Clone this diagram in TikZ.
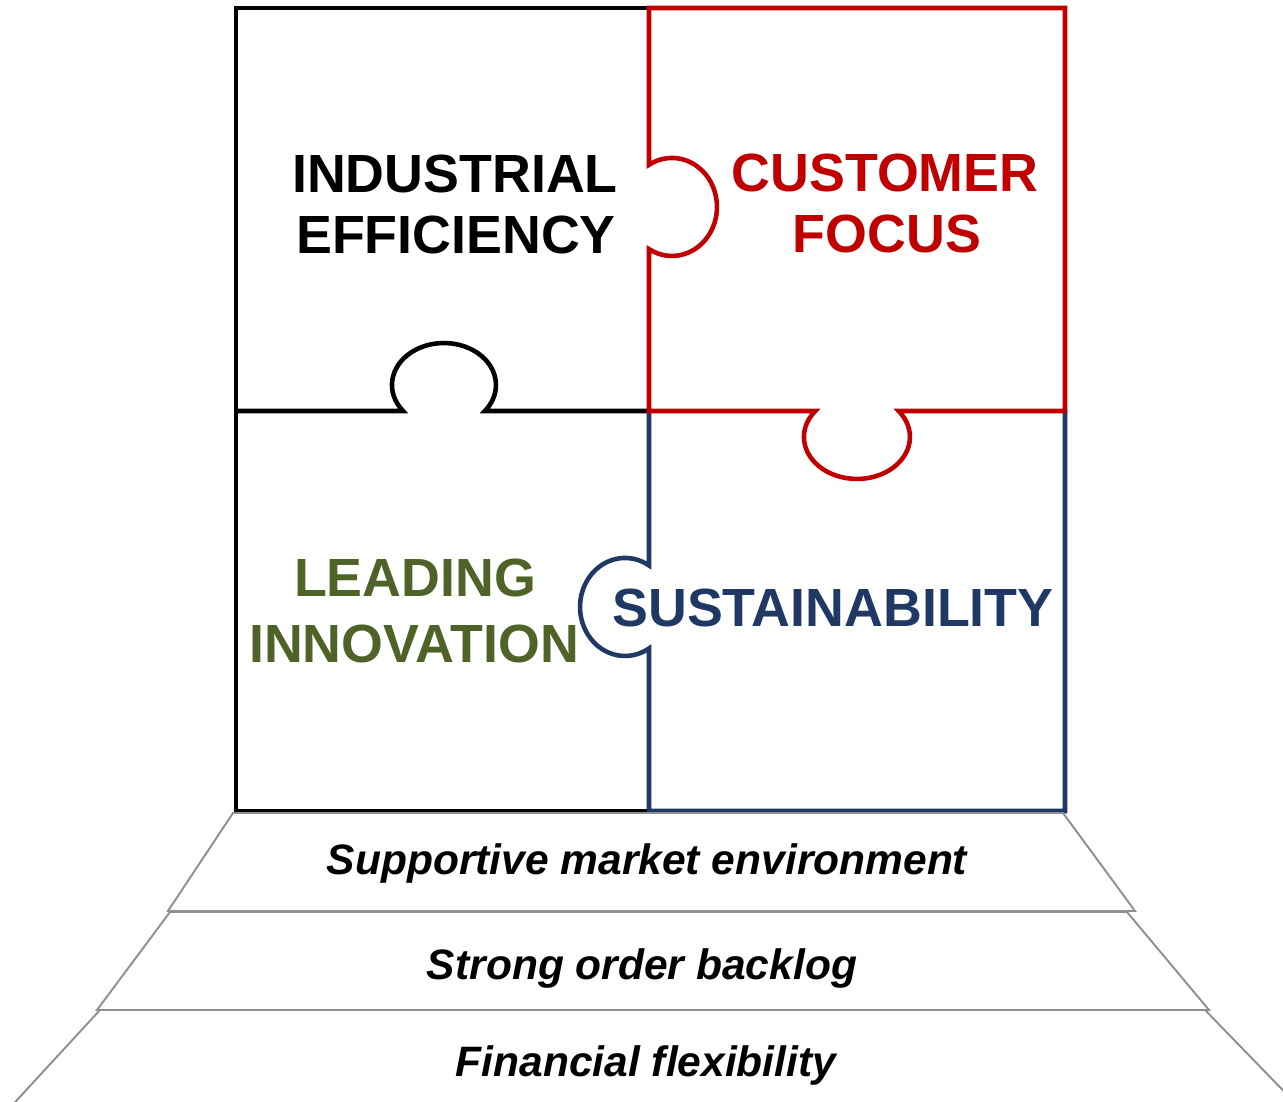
\documentclass[tikz,border=0pt]{standalone}
\usepackage{fontspec}
\setmainfont{Liberation Sans}
\usetikzlibrary{calc, positioning}

\definecolor{custred}{HTML}{C00000}
\definecolor{sustblue}{HTML}{1F3864}
\definecolor{innogreen}{HTML}{4F6228}
\definecolor{basegray}{HTML}{8F8F8F}

\begin{document}
\begin{tikzpicture}[x=0.1mm,y=0.1mm,
    piece/.style={line width=1.3pt, line join=miter},
    layer/.style={draw=basegray, line width=0.55pt, line join=miter},
    pillar/.style={font=\fontsize{15.3}{18}\selectfont\bfseries, anchor=base, inner sep=0pt},
    basetext/.style={font=\fontsize{12.1}{14}\selectfont\bfseries\itshape, anchor=base, inner sep=0pt}]
\useasboundingbox (0,0) rectangle (1283,1102);

\pgfmathsetmacro{\xl}{236}
\pgfmathsetmacro{\xr}{1065}
\pgfmathsetmacro{\xm}{649}
\pgfmathsetmacro{\yt}{1094}
\pgfmathsetmacro{\yb}{291}
\pgfmathsetmacro{\ym}{691}

\coordinate (TL) at (\xl,\yt);
\coordinate (TM) at (\xm,\yt);
\coordinate (TR) at (\xr,\yt);
\coordinate (LM) at (\xl,\ym);
\coordinate (C)  at (\xm,\ym);
\coordinate (RM) at (\xr,\ym);
\coordinate (BL) at (\xl,\yb);
\coordinate (BM) at (\xm,\yb);
\coordinate (BR) at (\xr,\yb);

% Black pieces (left column)
\draw[piece,black] (TM) -- (TL) -- (BL) -- (BM);
\draw[piece,black] (LM) -- (403.1,\ym)
    arc[start angle=218.2, end angle=-38.2, x radius=52, y radius=42] -- (C);

% Blue piece with knob to the left (top edge is the red one)
\draw[piece,sustblue] (C) -- (\xm,536.5)
    arc[start angle=57.8, end angle=302.2, x radius=45, y radius=49]
    -- (BM) -- (BR) -- (RM);

% Red piece with knob down and socket on the left
\draw[piece,custred] (TM) -- (TR) -- (RM) -- (898.6,\ym)
    arc[start angle=38.2, end angle=-218.2, x radius=53, y radius=42]
    -- (C) -- (\xm,852.9)
    arc[start angle=-120.7, end angle=120.7, x radius=45, y radius=49]
    -- cycle;

% Piece labels
\node[pillar,black] (ind) at (455,909) {INDUSTRIAL};
\node[pillar,black] (eff) at (456,848) {EFFICIENCY};
\node[pillar,custred] (cust) at (885,910) {CUSTOMER};
\node[pillar,custred] (focus) at (887,849) {FOCUS};
\node[pillar,innogreen] (lead) at (415,505) {LEADING};
\node[pillar,innogreen] (innov) at (414,439) {INNOVATION};
\node[pillar,sustblue] (sust) at (833,475) {SUSTAINABILITY};

% Foundation layers
\draw[layer] (233,289) -- (1063,289) -- (1135,191) -- (168,191) -- cycle;
\draw[layer] (170,190) -- (1127,190) -- (1209,92) -- (97,92) -- cycle;
\draw[layer] (100,92) -- (1205,92) -- (1304,-10) -- (6,-10) -- cycle;

\node[basetext] (market) at (647,227) {Supportive market environment};
\node[basetext] (backlog) at (642,122) {Strong order backlog};
\node[basetext] (finance) at (646,25) {Financial flexibility};
\end{tikzpicture}
\end{document}
